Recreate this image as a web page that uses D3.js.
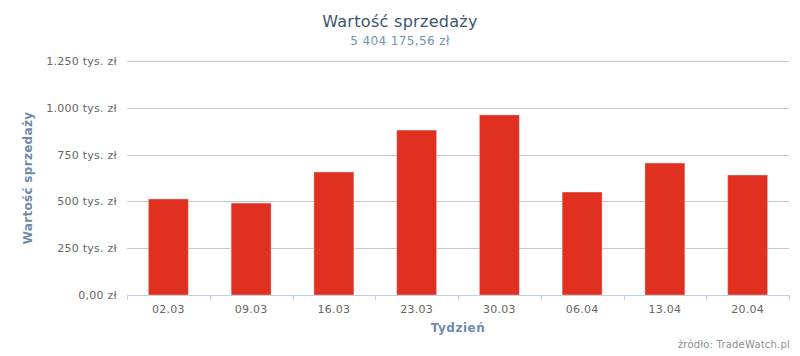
<!DOCTYPE html>
<html>
<head>
<meta charset="utf-8">
<script src="https://cdn.jsdelivr.net/npm/d3@7"></script>
<style>
  body { margin: 0; background: #fff; overflow: hidden; }
  svg { display: block; font-family: "DejaVu Sans", Verdana, sans-serif; }
</style>
</head>
<body>
<svg id="chart"></svg>
<script>
const weeks = ["02.03", "09.03", "16.03", "23.03", "30.03", "06.04", "13.04", "20.04"];
const sales = [513, 491, 657, 881, 962, 550, 705, 641]; // tys. zł
const yTicks = [0, 250, 500, 750, 1000, 1250];

const width = 800;
const height = 356;
const margin = { top: 61, right: 11, bottom: 61, left: 127 };
const innerWidth = width - margin.left - margin.right;
const innerHeight = height - margin.top - margin.bottom;

const svg = d3.select("#chart").attr("width", width).attr("height", height);

const xScale = d3.scaleBand().domain(weeks).range([0, innerWidth])
  .paddingInner(0.517).paddingOuter(0.2585);
const yScale = d3.scaleLinear().domain([0, 1250]).range([innerHeight, 0]);
const step = innerWidth / weeks.length;

const fmt = v => v === 0 ? "0,00 zł" : d3.format(",")(v).replace(",", ".") + " tys. zł";

// titles
svg.append("text")
  .attr("x", width / 2).attr("y", 27)
  .attr("text-anchor", "middle")
  .attr("font-size", "16px").attr("fill", "#3d546c")
  .style("letter-spacing", "0.3px")
  .text("Wartość sprzedaży");
svg.append("text")
  .attr("x", width / 2).attr("y", 45)
  .attr("text-anchor", "middle")
  .attr("font-size", "12px").attr("fill", "#7791ae")
  .style("letter-spacing", "0.4px")
  .text("5 404 175,56 zł");

const g = svg.append("g").attr("transform", `translate(${margin.left},${margin.top})`);

// grid
g.selectAll(".grid")
  .data(yTicks.filter(d => d > 0))
  .enter().append("line")
  .attr("x1", 0).attr("x2", innerWidth)
  .attr("y1", d => Math.round(yScale(d)) + 0.5).attr("y2", d => Math.round(yScale(d)) + 0.5)
  .attr("stroke", "#c8c8c8");

// y labels
g.selectAll(".ylab")
  .data(yTicks)
  .enter().append("text")
  .attr("x", -10).attr("y", d => yScale(d) + 4)
  .attr("text-anchor", "end")
  .attr("font-size", "11px").attr("fill", "#666")
  .style("letter-spacing", "0.25px")
  .text(fmt);

// bars
g.selectAll("rect")
  .data(sales)
  .enter().append("rect")
  .attr("x", (d, i) => xScale(weeks[i]))
  .attr("y", d => yScale(d))
  .attr("width", xScale.bandwidth())
  .attr("height", d => innerHeight - yScale(d))
  .attr("fill", "#e03120")
  .attr("stroke", "rgba(255,255,255,0.35)")
  .attr("stroke-width", 1);

// x axis
g.append("line")
  .attr("x1", 0).attr("x2", innerWidth)
  .attr("y1", innerHeight + 0.5).attr("y2", innerHeight + 0.5)
  .attr("stroke", "#c0d0e0");
g.selectAll(".xtick")
  .data(d3.range(weeks.length + 1))
  .enter().append("line")
  .attr("x1", i => Math.round(i * step) + 0.5).attr("x2", i => Math.round(i * step) + 0.5)
  .attr("y1", innerHeight).attr("y2", innerHeight + 5)
  .attr("stroke", "#c0d0e0");
g.selectAll(".xlab")
  .data(weeks)
  .enter().append("text")
  .attr("x", d => xScale(d) + xScale.bandwidth() / 2)
  .attr("y", innerHeight + 18)
  .attr("text-anchor", "middle")
  .attr("font-size", "11px").attr("fill", "#666")
  .style("letter-spacing", "0.3px")
  .text(d => d);

// axis titles
g.append("text")
  .attr("x", innerWidth / 2).attr("y", innerHeight + 37)
  .attr("text-anchor", "middle")
  .attr("font-size", "12px").attr("font-weight", "bold").attr("fill", "#6f8bab")
  .style("letter-spacing", "0.5px")
  .text("Tydzień");
svg.append("text")
  .attr("transform", `translate(32,${margin.top + innerHeight / 2}) rotate(-90)`)
  .attr("text-anchor", "middle")
  .attr("font-size", "12px").attr("font-weight", "bold").attr("fill", "#6f8bab")
  .style("letter-spacing", "0.3px")
  .text("Wartość sprzedaży");

// credits
svg.append("text")
  .attr("x", width - 10).attr("y", height - 8)
  .attr("text-anchor", "end")
  .attr("font-size", "10px").attr("fill", "#909090")
  .style("letter-spacing", "0.2px")
  .text("źródło: TradeWatch.pl");
</script>
</body>
</html>
